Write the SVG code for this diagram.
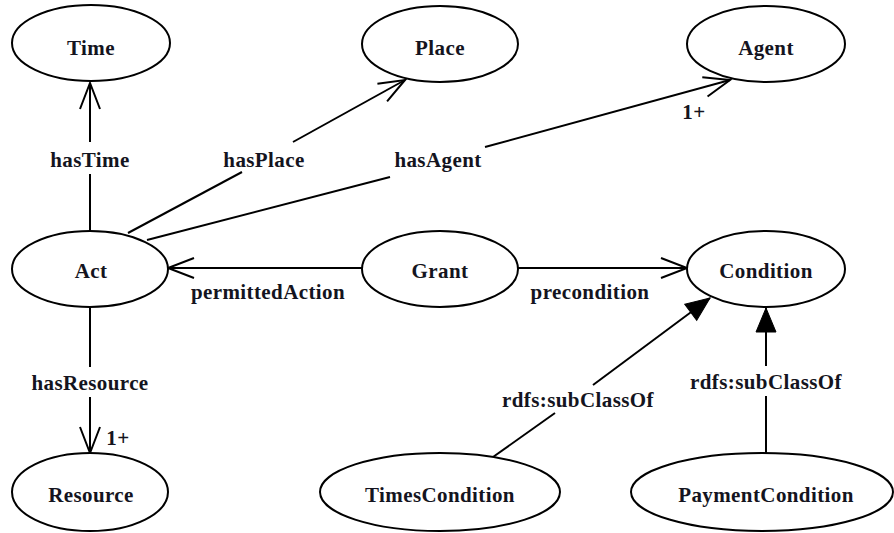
<svg xmlns="http://www.w3.org/2000/svg" width="894" height="533" viewBox="0 0 894 533">
<style>
  .node ellipse { fill: #fff; stroke: #000; stroke-width: 2; }
  text { font-family: "Liberation Serif", "Times New Roman", serif; font-weight: bold; font-size: 21px; letter-spacing: 0.4px; fill: #141420; text-anchor: middle; }
  .edge { fill: none; stroke: #000; stroke-width: 2; }
</style>
<defs>
  <marker id="open" markerUnits="userSpaceOnUse" markerWidth="32" markerHeight="26" viewBox="-29 -13 32 26" refX="0" refY="0" orient="auto" overflow="visible">
    <path d="M-26,-10 L0,0 L-26,10" fill="none" stroke="#000" stroke-width="2"/>
  </marker>
  <marker id="filled" markerUnits="userSpaceOnUse" markerWidth="28" markerHeight="24" viewBox="-26 -12 28 24" refX="0" refY="0" orient="auto" overflow="visible">
    <path d="M-24,-10 L0,0 L-24,10 Z" fill="#000" stroke="#000" stroke-width="1"/>
  </marker>
</defs>
<rect width="894" height="533" fill="#fff"/>

<g id="connectors">
  <!-- Act -> Time -->
  <line class="edge" x1="90" y1="231" x2="90" y2="174"/>
  <line class="edge" x1="90" y1="142" x2="90" y2="83" marker-end="url(#open)"/>
  <text x="90" y="167">hasTime</text>
  <!-- Act -> Place -->
  <line class="edge" x1="128" y1="233" x2="242" y2="172"/>
  <line class="edge" x1="293" y1="142" x2="405" y2="80" marker-end="url(#open)"/>
  <text x="264" y="167">hasPlace</text>
  <!-- Act -> Agent -->
  <line class="edge" x1="147" y1="240" x2="390" y2="177"/>
  <line class="edge" x1="485" y1="147" x2="730" y2="80" marker-end="url(#open)"/>
  <text x="438" y="167">hasAgent</text>
  <text x="694" y="119">1+</text>
  <!-- Grant -> Act -->
  <line class="edge" x1="362" y1="268" x2="168" y2="268" marker-end="url(#open)"/>
  <text x="268" y="299">permittedAction</text>
  <!-- Grant -> Condition -->
  <line class="edge" x1="518" y1="268" x2="687" y2="268" marker-end="url(#open)"/>
  <text x="590" y="299">precondition</text>
  <!-- Act -> Resource -->
  <line class="edge" x1="90" y1="307" x2="90" y2="367"/>
  <line class="edge" x1="90" y1="397" x2="90" y2="453" marker-end="url(#open)"/>
  <text x="90" y="390">hasResource</text>
  <text x="118" y="445">1+</text>
  <!-- TimesCondition -> Condition -->
  <line class="edge" x1="493" y1="457" x2="555" y2="413"/>
  <line class="edge" x1="593" y1="385" x2="710" y2="298" marker-end="url(#filled)"/>
  <text x="578" y="407">rdfs:subClassOf</text>
  <!-- PaymentCondition -> Condition -->
  <line class="edge" x1="766" y1="453" x2="766" y2="396"/>
  <line class="edge" x1="766" y1="366" x2="766" y2="308" marker-end="url(#filled)"/>
  <text x="766" y="389">rdfs:subClassOf</text>
</g>

<g id="Time" class="node"><ellipse cx="91" cy="43" rx="79" ry="38"/><text x="91" y="55">Time</text></g>
<g id="Place" class="node"><ellipse cx="440" cy="44" rx="78" ry="38"/><text x="440" y="55">Place</text></g>
<g id="Agent" class="node"><ellipse cx="766" cy="44" rx="79" ry="38"/><text x="766" y="55">Agent</text></g>
<g id="Act" class="node"><ellipse cx="90" cy="269" rx="78" ry="38"/><text x="91" y="278">Act</text></g>
<g id="Grant" class="node"><ellipse cx="440" cy="269" rx="78" ry="38"/><text x="440" y="278">Grant</text></g>
<g id="Condition" class="node"><ellipse cx="766" cy="269" rx="79" ry="38"/><text x="766" y="278">Condition</text></g>
<g id="Resource" class="node"><ellipse cx="90" cy="492" rx="78" ry="39"/><text x="91" y="502">Resource</text></g>
<g id="TimesCondition" class="node"><ellipse cx="440" cy="492" rx="120" ry="39"/><text x="440" y="502">TimesCondition</text></g>
<g id="PaymentCondition" class="node"><ellipse cx="762" cy="492" rx="131" ry="39"/><text x="766" y="502">PaymentCondition</text></g>
</svg>
